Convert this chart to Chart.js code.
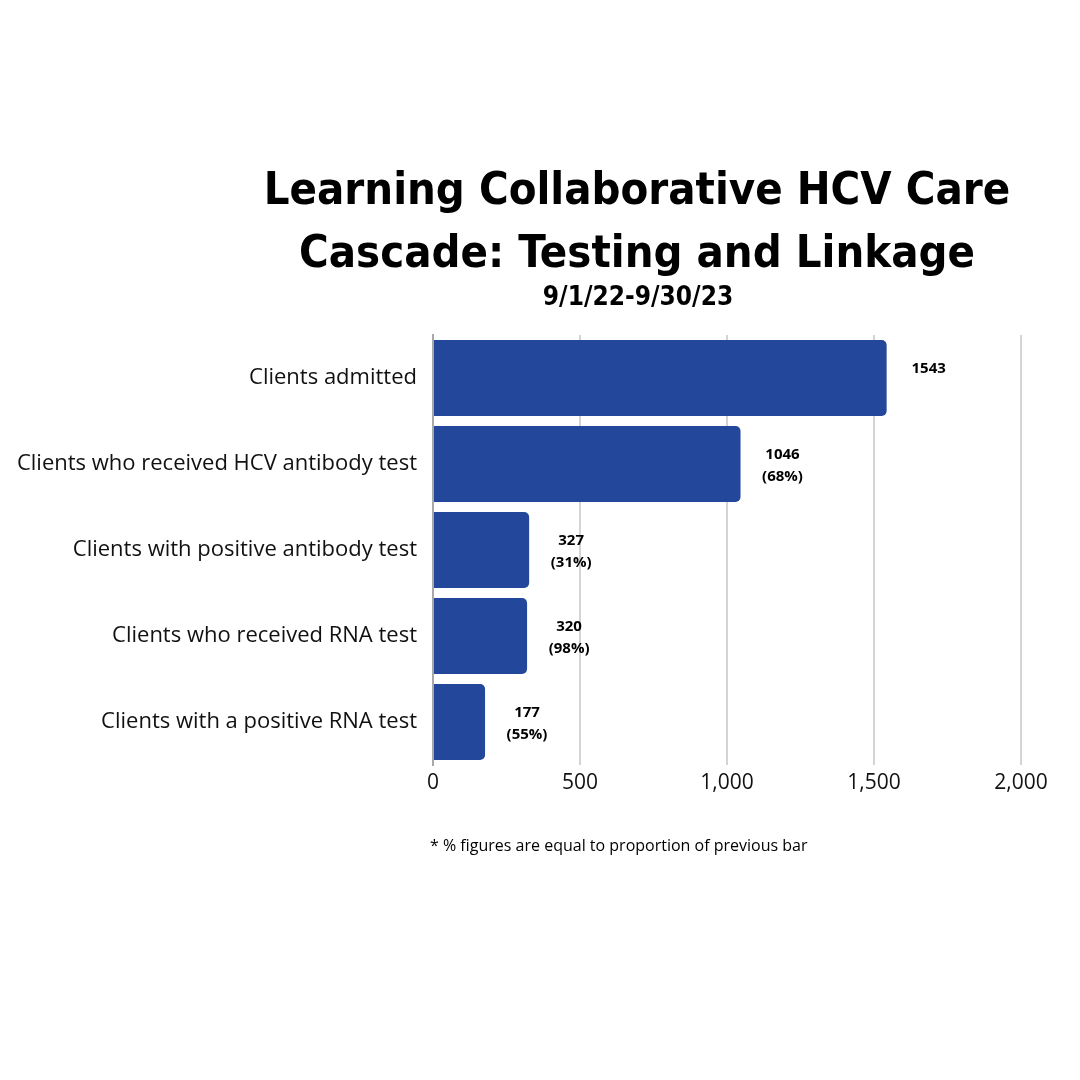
<!DOCTYPE html>
<html>
<head>
<meta charset="utf-8">
<script src="https://cdn.jsdelivr.net/npm/chart.js@4"></script>
<style>
html,body{margin:0;padding:0;background:#fff;}
#wrap{width:1080px;height:1080px;position:relative;}
</style>
</head>
<body>
<div id="wrap"><canvas id="c" width="1080" height="1080"></canvas></div>
<script>
const categories = [
  'Clients admitted',
  'Clients who received HCV antibody test',
  'Clients with positive antibody test',
  'Clients who received RNA test',
  'Clients with a positive RNA test'
];
const values = [1543, 1046, 327, 320, 177];
const percentLabels = ['', '(68%)', '(31%)', '(98%)', '(55%)'];
const xTicks = [0, 500, 1000, 1500, 2000];
const titleLines = ['Learning Collaborative HCV Care', 'Cascade: Testing and Linkage'];
const subtitleText = '9/1/22-9/30/23';
const footnoteText = '* % figures are equal to proportion of previous bar';

const barColor = '#23479A';

const textPlugin = {
  id: 'textPlugin',
  afterDraw(chart) {
    const ctx = chart.ctx;
    ctx.save();
    ctx.fillStyle = '#000';
    ctx.textAlign = 'center';
    ctx.textBaseline = 'alphabetic';
    ctx.font = "bold 45px 'DejaVu Sans Condensed', 'DejaVu Sans'";
    ctx.fillText(titleLines[0], 637, 204);
    ctx.fillText(titleLines[1], 637, 267);
    ctx.font = "bold 26px 'DejaVu Sans Condensed', 'DejaVu Sans'";
    ctx.fillText(subtitleText, 638, 305);
    ctx.textAlign = 'left';
    ctx.textBaseline = 'middle';
    ctx.font = "16px 'Open Sans'";
    ctx.fillText(footnoteText, 430, 846);
    // data labels
    const meta = chart.getDatasetMeta(0);
    ctx.textAlign = 'center';
    ctx.font = "bold 15px 'Open Sans'";
    meta.data.forEach((bar, i) => {
      const x = bar.x + 42;
      ctx.fillText(String(values[i]), x, bar.y - 9);
      if (percentLabels[i]) {
        ctx.fillText(percentLabels[i], x, bar.y + 13);
      }
    });
    ctx.restore();
  }
};

new Chart(document.getElementById('c'), {
  type: 'bar',
  data: {
    labels: categories,
    datasets: [{
      data: values,
      backgroundColor: barColor,
      borderRadius: 5,
      borderSkipped: 'start',
      barPercentage: 0.884,
      categoryPercentage: 1.0
    }]
  },
  options: {
    indexAxis: 'y',
    responsive: false,
    animation: false,
    devicePixelRatio: 1,
    layout: { padding: { top: 335, left: 0, right: 59, bottom: 275 } },
    plugins: {
      legend: { display: false },
      title: { display: false },
      tooltip: { enabled: false }
    },
    scales: {
      x: {
        min: 0,
        max: 2000,
        afterBuildTicks(scale) { scale.ticks = xTicks.map(v => ({ value: v })); },
        afterFit(scale) { scale.height = 40; },
        grid: { color: '#d4d4d4', lineWidth: 2, drawTicks: false },
        border: { display: false },
        ticks: {
          color: '#111',
          font: { family: 'Open Sans', size: 21 },
          padding: 5,
          callback: (v) => Number(v).toLocaleString('en-US')
        }
      },
      y: {
        afterFit(scale) { scale.width = 433; },
        grid: { display: false, drawTicks: false },
        border: { display: true, color: '#a8a8a8', width: 2 },
        ticks: {
          color: '#111',
          font: { family: 'Open Sans', size: 22 },
          padding: 16
        }
      }
    }
  },
  plugins: [textPlugin]
});
</script>
</body>
</html>
